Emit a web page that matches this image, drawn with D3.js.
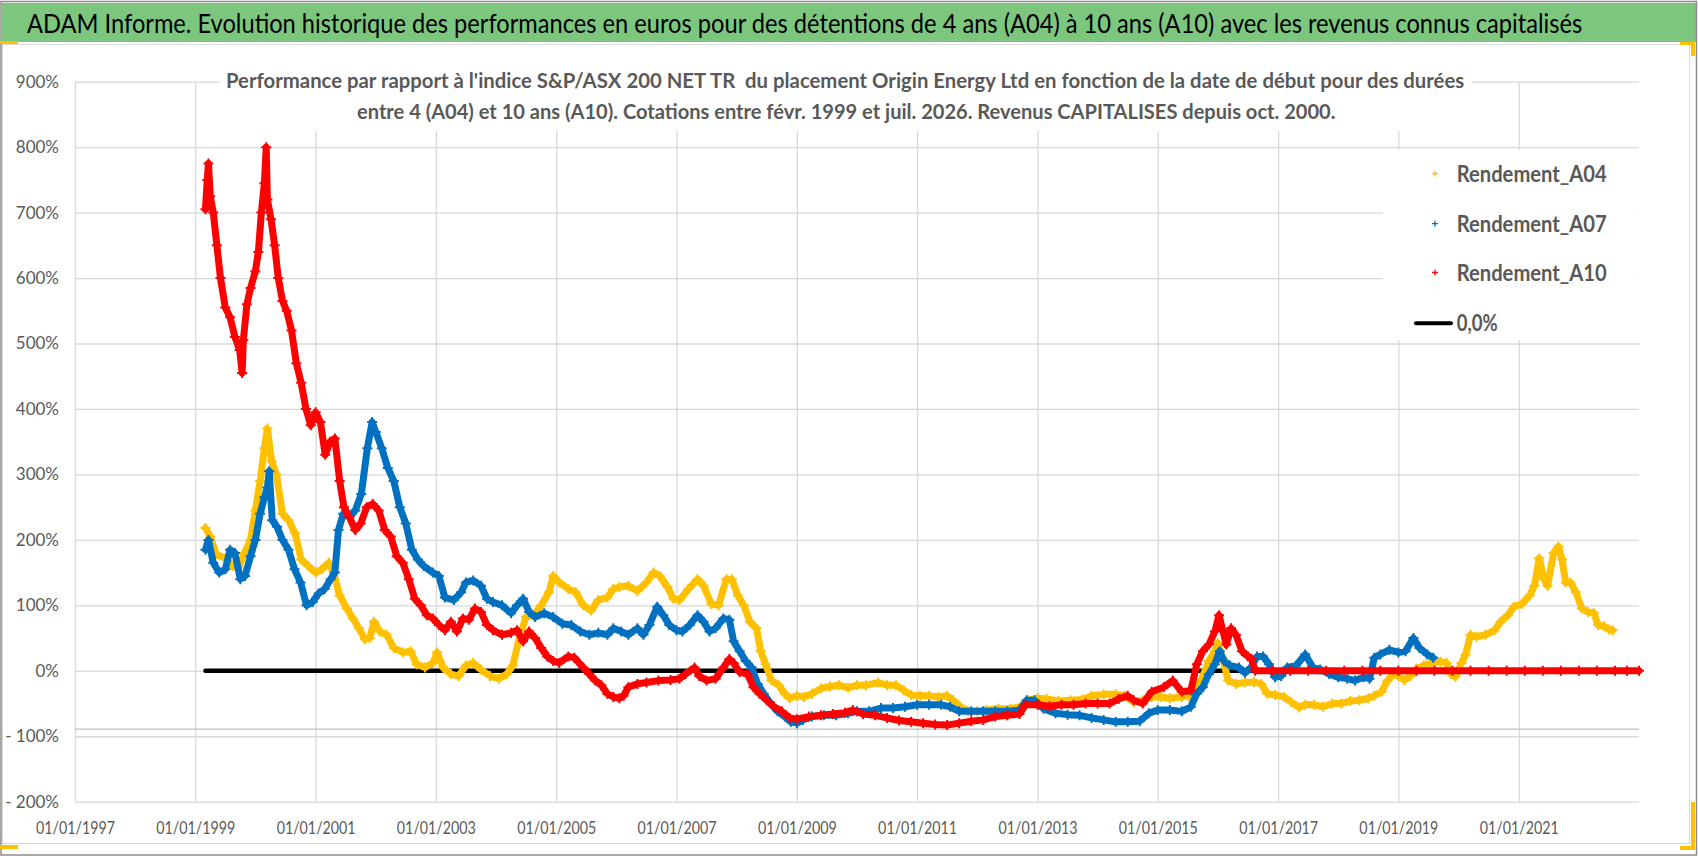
<!DOCTYPE html>
<html>
<head>
<meta charset="utf-8">
<script src="https://cdn.jsdelivr.net/npm/d3@7"></script>
<style>
  body { margin: 0; background: #fff; }
  svg { display: block; font-family: Lato, "Open Sans", sans-serif; }
</style>
</head>
<body>
<svg id="chart" width="1698" height="856"></svg>
<script>
// texts
const mainTitle = "ADAM Informe. Evolution historique des performances en euros pour des détentions de 4 ans (A04) à 10 ans (A10) avec les revenus connus capitalisés";
const subTitle1 = "Performance par rapport à l'indice S&P/ASX 200 NET TR  du placement Origin Energy Ltd en fonction de la date de début pour des durées";
const subTitle2 = "entre 4 (A04) et 10 ans (A10). Cotations entre févr. 1999 et juil. 2026. Revenus CAPITALISES depuis oct. 2000.";
const seriesNames = ["Rendement_A04", "Rendement_A07", "Rendement_A10"];
const zeroName = "0,0%";

// axes
const yTicks = [900, 800, 700, 600, 500, 400, 300, 200, 100, 0, -100, -200];
const xTickLabels = ["01/01/1997", "01/01/1999", "01/01/2001", "01/01/2003", "01/01/2005", "01/01/2007",
  "01/01/2009", "01/01/2011", "01/01/2013", "01/01/2015", "01/01/2017", "01/01/2019", "01/01/2021"];

// data: start date (decimal year) and performance in %
const a04Years = [1999.17, 1999.25, 1999.35, 1999.5, 1999.62, 1999.72, 1999.82, 1999.92, 2000.0, 2000.08,
  2000.15, 2000.2, 2000.27, 2000.35, 2000.45, 2000.55, 2000.66, 2000.76, 2000.88, 2001.0,
  2001.1, 2001.22, 2001.3, 2001.4, 2001.52, 2001.62, 2001.72, 2001.82, 2001.9, 2001.97,
  2002.07, 2002.18, 2002.3, 2002.45, 2002.58, 2002.68, 2002.82, 2002.95, 2003.02, 2003.12,
  2003.25, 2003.38, 2003.5, 2003.62, 2003.75, 2003.9, 2004.05, 2004.18, 2004.28, 2004.4,
  2004.5, 2004.62, 2004.75, 2004.88, 2004.95, 2005.05, 2005.2, 2005.32, 2005.45, 2005.58,
  2005.7, 2005.85, 2005.95, 2006.05, 2006.2, 2006.35, 2006.5, 2006.62, 2006.72, 2006.85,
  2006.95, 2007.05, 2007.2, 2007.35, 2007.45, 2007.58, 2007.7, 2007.83, 2007.92, 2008.02,
  2008.12, 2008.22, 2008.33, 2008.4, 2008.48, 2008.58, 2008.7, 2008.8, 2008.88, 2009.0,
  2009.12, 2009.25, 2009.4, 2009.55, 2009.7, 2009.85, 2010.0, 2010.15, 2010.35, 2010.5,
  2010.65, 2010.78, 2010.9, 2011.05, 2011.2, 2011.35, 2011.5, 2011.6, 2011.72, 2011.85,
  2012.0, 2012.15, 2012.35, 2012.55, 2012.72, 2012.85, 2013.0, 2013.15, 2013.35, 2013.55,
  2013.75, 2013.9, 2014.1, 2014.3, 2014.45, 2014.6, 2014.75, 2014.9, 2015.05, 2015.2,
  2015.4, 2015.52, 2015.62, 2015.72, 2015.85, 2015.95, 2016.0, 2016.08, 2016.17, 2016.3,
  2016.45, 2016.6, 2016.72, 2016.82, 2016.95, 2017.1, 2017.22, 2017.35, 2017.45, 2017.6,
  2017.75, 2017.9, 2018.05, 2018.2, 2018.35, 2018.5, 2018.6, 2018.72, 2018.82, 2018.92,
  2019.0, 2019.1, 2019.2, 2019.3, 2019.42, 2019.55, 2019.7, 2019.8, 2019.88, 2019.95,
  2020.05, 2020.12, 2020.2, 2020.3, 2020.45, 2020.6, 2020.7, 2020.82, 2020.92, 2021.05,
  2021.18, 2021.26, 2021.34, 2021.42, 2021.48, 2021.58, 2021.66, 2021.72, 2021.78, 2021.86,
  2021.95, 2022.05, 2022.15, 2022.25, 2022.32, 2022.42, 2022.5, 2022.56];
const a04Values = [218, 205, 178, 172, 160, 158, 180, 200, 245, 290,
  340, 370, 320, 300, 240, 230, 210, 170, 160, 150,
  155, 165, 150, 115, 95, 80, 65, 48, 50, 75,
  60, 55, 35, 28, 30, 10, 5, 12, 28, 5,
  -5, -8, 8, 12, 2, -8, -12, -5, 8, 55,
  82, 85, 100, 120, 145, 135, 125, 120, 100, 92,
  108, 112, 125, 128, 130, 122, 135, 150, 145, 128,
  110, 108, 125, 140, 130, 102, 100, 140, 140, 115,
  100, 75, 65, 30, 10, -15, -22, -35, -42, -38,
  -40, -35, -27, -24, -22, -26, -22, -22, -18, -22,
  -22, -30, -37, -38, -38, -40, -38, -45, -55, -62,
  -62, -60, -58, -58, -55, -45, -42, -43, -46, -45,
  -44, -38, -36, -36, -38, -48, -45, -40, -40, -42,
  -40, -38, -22, -15, 15, 30, 42, 20, -15, -20,
  -18, -17, -20, -35, -37, -40, -48, -56, -52, -52,
  -55, -50, -50, -46, -45, -42, -38, -32, -15, -5,
  -8, -14, -8, 3, 8, 12, 14, 12, -5, -9,
  12, 25, 55, 52, 55, 62, 75, 85, 98, 102,
  115, 130, 172, 140, 130, 180, 190, 170, 135, 135,
  120, 95, 90, 88, 70, 68, 63, 62];

const a07Years = [1999.17, 1999.22, 1999.3, 1999.4, 1999.5, 1999.58, 1999.66, 1999.75, 1999.83, 1999.92,
  2000.0, 2000.08, 2000.15, 2000.2, 2000.23, 2000.28, 2000.36, 2000.45, 2000.55, 2000.65, 2000.75,
  2000.85, 2000.95, 2001.05, 2001.15, 2001.25, 2001.32, 2001.38, 2001.46, 2001.56, 2001.66,
  2001.76, 2001.86, 2001.94, 2002.0, 2002.1, 2002.2, 2002.3, 2002.4, 2002.5, 2002.6,
  2002.7, 2002.8, 2002.95, 2003.05, 2003.15, 2003.3, 2003.42, 2003.5, 2003.62, 2003.75,
  2003.85, 2003.95, 2004.1, 2004.25, 2004.35, 2004.45, 2004.55, 2004.65, 2004.8, 2004.95,
  2005.1, 2005.25, 2005.4, 2005.55, 2005.7, 2005.85, 2005.95, 2006.08, 2006.2, 2006.35,
  2006.45, 2006.55, 2006.68, 2006.78, 2006.88, 2007.0, 2007.1, 2007.22, 2007.35, 2007.45,
  2007.55, 2007.65, 2007.78, 2007.88, 2007.95, 2008.05, 2008.15, 2008.25, 2008.35, 2008.45,
  2008.55, 2008.68, 2008.8, 2008.9, 2009.0, 2009.1, 2009.25, 2009.45, 2009.65, 2009.85,
  2010.0, 2010.2, 2010.4, 2010.6, 2010.8, 2011.0, 2011.2, 2011.4, 2011.55, 2011.7,
  2011.9, 2012.1, 2012.3, 2012.5, 2012.7, 2012.82, 2012.95, 2013.1, 2013.3, 2013.5,
  2013.7, 2013.9, 2014.1, 2014.3, 2014.5, 2014.7, 2014.85, 2015.0, 2015.2, 2015.4,
  2015.55, 2015.65, 2015.75, 2015.85, 2015.95, 2016.03, 2016.1, 2016.2, 2016.35, 2016.45,
  2016.55, 2016.65, 2016.75, 2016.85, 2016.95, 2017.05, 2017.15, 2017.3, 2017.45, 2017.58,
  2017.7, 2017.85, 2018.0, 2018.15, 2018.28, 2018.42, 2018.52, 2018.6, 2018.7, 2018.85,
  2019.0, 2019.12, 2019.25, 2019.35, 2019.48, 2019.58];
const a07Values = [185, 200, 165, 150, 155, 185, 180, 140, 145, 175,
  200, 240, 265, 280, 305, 230, 220, 200, 185, 155, 135,
  100, 105, 118, 125, 140, 150, 215, 240, 235, 245,
  270, 340, 380, 365, 340, 310, 290, 250, 225, 185,
  170, 160, 150, 145, 112, 108, 120, 135, 138, 130,
  110, 105, 100, 88, 100, 110, 90, 82, 88, 82,
  72, 70, 60, 55, 58, 55, 65, 60, 55, 65,
  55, 70, 98, 85, 70, 62, 60, 70, 85, 75,
  60, 65, 80, 78, 45, 30, 15, 5, -20, -35,
  -48, -62, -70, -78, -80, -75, -70, -68, -68, -65,
  -62, -62, -57, -57, -55, -52, -52, -52, -55, -62,
  -62, -62, -62, -62, -60, -45, -45, -58, -65, -67,
  -68, -72, -75, -78, -78, -77, -65, -60, -60, -62,
  -55, -35, -25, -5, 10, 30, 15, 8, 5, -3,
  5, 22, 22, 10, -10, -8, 5, 8, 25, 5,
  2, -5, -10, -12, -15, -10, -12, 20, 25, 32,
  28, 30, 50, 35, 25, 20];

const a10Years = [1999.17, 1999.2, 1999.22, 1999.25, 1999.3, 1999.36, 1999.42, 1999.5, 1999.58, 1999.66, 1999.74,
  1999.78, 1999.8, 1999.86, 1999.92, 2000.0, 2000.05, 2000.1, 2000.15, 2000.18, 2000.2, 2000.26, 2000.32,
  2000.38, 2000.45, 2000.52, 2000.6, 2000.68, 2000.76, 2000.84, 2000.92, 2001.0, 2001.08,
  2001.16, 2001.24, 2001.32, 2001.4, 2001.47, 2001.56, 2001.66, 2001.75, 2001.85, 2001.95,
  2002.05, 2002.15, 2002.25, 2002.35, 2002.45, 2002.55, 2002.65, 2002.75, 2002.85, 2002.95,
  2003.05, 2003.15, 2003.25, 2003.35, 2003.45, 2003.55, 2003.65, 2003.75, 2003.85, 2003.95,
  2004.1, 2004.25, 2004.35, 2004.45, 2004.55, 2004.65, 2004.75, 2004.85, 2004.95, 2005.05,
  2005.2, 2005.3, 2005.45, 2005.55, 2005.65, 2005.75, 2005.85, 2005.95, 2006.05, 2006.12,
  2006.2, 2006.35, 2006.5, 2006.7, 2006.9, 2007.05, 2007.15, 2007.3, 2007.38, 2007.5,
  2007.65, 2007.78, 2007.88, 2007.95, 2008.05, 2008.18, 2008.28, 2008.38, 2008.5, 2008.62,
  2008.75, 2008.88, 2009.0, 2009.2, 2009.4, 2009.6, 2009.8, 2009.93, 2010.1, 2010.3,
  2010.5, 2010.7, 2010.9, 2011.1, 2011.3, 2011.5, 2011.7, 2011.9, 2012.1, 2012.3,
  2012.5, 2012.7, 2012.8, 2013.0, 2013.2, 2013.4, 2013.6, 2013.8, 2014.0, 2014.2,
  2014.35, 2014.5, 2014.6, 2014.75, 2014.9, 2015.1, 2015.25, 2015.4, 2015.55, 2015.65,
  2015.75, 2015.85, 2015.95, 2016.02, 2016.08, 2016.14, 2016.22, 2016.3, 2016.4, 2016.5,
  2016.56, 2016.62, 2016.9, 2017.2, 2017.5, 2017.8, 2018.1, 2018.4, 2018.7, 2019.0,
  2019.3, 2019.6, 2019.9, 2020.2, 2020.5, 2020.8, 2021.1, 2021.4, 2021.7, 2022.0,
  2022.3, 2022.6, 2022.8, 2023.0];
const a10Values = [705, 750, 775, 725, 700, 650, 600, 555, 540, 510, 490,
  455, 505, 560, 585, 610, 640, 700, 745, 800, 720, 690, 650,
  600, 565, 550, 520, 470, 440, 400, 375, 395, 380,
  330, 350, 355, 290, 250, 235, 215, 225, 250, 255,
  245, 215, 205, 175, 165, 140, 110, 100, 85, 80,
  70, 62, 75, 60, 80, 78, 95, 90, 70, 62,
  55, 58, 62, 45, 60, 50, 35, 22, 15, 12,
  22, 20, 5, -5, -15, -22, -35, -40, -42, -38,
  -25, -20, -18, -15, -14, -12, -5, 5, -8, -15,
  -12, 5, 18, 12, -2, -5, -25, -35, -45, -55,
  -62, -72, -74, -70, -68, -66, -64, -60, -66, -68,
  -72, -76, -78, -80, -82, -83, -80, -77, -75, -70,
  -68, -66, -52, -52, -54, -52, -52, -50, -50, -50,
  -43, -38, -45, -50, -32, -25, -15, -32, -30, 10,
  30, 40, 60, 85, 62, 40, 65, 55, 30, 22,
  18, 0, 0, 0, 0, 0, 0, 0, 0, 0,
  0, 0, 0, 0, 0, 0, 0, 0, 0, 0,
  0, 0, 0, 0];

const zeroYears = [1999.17, 2023.0];
const zeroValues = [0, 0];

const colors = ["#FFC000", "#0070C0", "#FF0000"];

// ---------- layout ----------
const W = 1698, H = 856;
const plot = { left: 75, right: 1639, top: 81.7, bottom: 801.7 };
const textGrey = "#595959";

function toDate(y) {
  const yr = Math.floor(y);
  const a = new Date(yr, 0, 1), b = new Date(yr + 1, 0, 1);
  return new Date(+a + (y - yr) * (b - a));
}
const parseLabel = d3.timeParse("%d/%m/%Y");
const xTickDates = xTickLabels.map(parseLabel);

const x = d3.scaleTime()
  .domain([new Date(1997, 0, 1), new Date(2023, 0, 1)])
  .range([plot.left, plot.right]);
const y = d3.scaleLinear()
  .domain([-200, 900])
  .range([plot.bottom, plot.top]);

const svg = d3.select("#chart");

// squeeze a text horizontally so that it fills the given width
function fitWidth(sel, x0, y0, width, anchor) {
  const natural = sel.node().getComputedTextLength();
  const k = width / natural;
  const left = anchor === "middle" ? x0 - width / 2 : x0;
  sel.attr("x", 0).attr("y", 0).attr("text-anchor", "start")
    .attr("transform", `translate(${left},${y0}) scale(${k},1)`);
}

// frame and title bar
svg.append("rect").attr("x", 0).attr("y", 0).attr("width", W).attr("height", H).attr("fill", "#fff");
svg.append("rect").attr("x", 2.5).attr("y", 44.5).attr("width", 1687).attr("height", 799)
  .attr("fill", "#fff").attr("stroke", "#d9d9d9");
svg.append("rect").attr("x", 2).attr("y", 3).attr("width", 1694).attr("height", 39).attr("fill", "#7dc67e");
svg.append("rect").attr("x", 1).attr("y", 1.5).attr("width", 1695.5).attr("height", 853.5)
  .attr("fill", "none").attr("stroke", "#8c8c8c").attr("stroke-width", 1.5);

// little yellow handles
const handles = [[0, 41, 18, 3], [0, 845, 18, 4], [1680, 42, 15, 3], [1691, 42, 4, 14],
  [1691, 802, 4, 48], [1680, 846, 15, 4]];
svg.selectAll("rect.handle").data(handles).enter().append("rect")
  .attr("class", "handle")
  .attr("x", d => d[0]).attr("y", d => d[1]).attr("width", d => d[2]).attr("height", d => d[3])
  .attr("fill", "#FFC000");

const titleText = svg.append("text")
  .attr("font-size", 26).attr("fill", "#000")
  .text(mainTitle);
fitWidth(titleText, 27, 33, 1556, "start");

// gridlines
const gridColor = "#d9d9d9";
const yGrid = svg.append("g")
  .attr("transform", `translate(${plot.left},0)`)
  .call(d3.axisLeft(y).tickValues(yTicks).tickSize(-(plot.right - plot.left)).tickFormat(""));
yGrid.select(".domain").remove();
yGrid.selectAll("line").attr("stroke", gridColor).attr("stroke-width", 1.3);

const xGrid = svg.append("g")
  .attr("transform", `translate(0,${plot.bottom})`)
  .call(d3.axisBottom(x).tickValues(xTickDates).tickSize(-(plot.bottom - plot.top)).tickFormat(""));
xGrid.select(".domain").remove();
xGrid.selectAll("line").attr("stroke", gridColor).attr("stroke-width", 1.3);

// horizontal axis line
svg.append("line")
  .attr("x1", plot.left).attr("x2", plot.right)
  .attr("y1", y(-89)).attr("y2", y(-89))
  .attr("stroke", "#bfbfbf").attr("stroke-width", 1.3);

// axis labels
const yAxis = svg.append("g")
  .attr("transform", `translate(${plot.left},0)`)
  .call(d3.axisLeft(y).tickValues(yTicks).tickSize(0).tickPadding(16)
    .tickFormat(v => v < 0 ? "- " + (-v) + "%" : v + "%"));
yAxis.select(".domain").remove();
yAxis.selectAll("text").attr("font-size", 17).attr("fill", textGrey)
  .attr("font-family", "Lato, 'Open Sans', sans-serif");

const xAxis = svg.append("g")
  .attr("transform", `translate(0,${plot.bottom})`)
  .call(d3.axisBottom(x).tickValues(xTickDates).tickSize(0).tickPadding(20)
    .tickFormat((d, i) => xTickLabels[i]));
xAxis.select(".domain").remove();
xAxis.selectAll("text").attr("font-size", 18).attr("fill", textGrey)
  .attr("font-family", "Lato, 'Open Sans', sans-serif")
  .attr("textLength", 79).attr("lengthAdjust", "spacingAndGlyphs");

// chart title box
svg.append("rect").attr("x", 220).attr("y", 60).attr("width", 1252).attr("height", 71).attr("fill", "#fff");
const sub1 = svg.append("text")
  .attr("font-size", 21).attr("font-weight", "bold").attr("fill", textGrey)
  .style("white-space", "pre")
  .text(subTitle1);
fitWidth(sub1, 845.5, 88, 1239, "middle");
const sub2 = svg.append("text")
  .attr("font-size", 21).attr("font-weight", "bold").attr("fill", textGrey)
  .text(subTitle2);
fitWidth(sub2, 846.5, 119, 979, "middle");

// legend
const legend = svg.append("g");
legend.append("rect").attr("x", 1383).attr("y", 150).attr("width", 255).attr("height", 190).attr("fill", "#fff");
const legRows = [181.7, 231.7, 280.5];
seriesNames.forEach((name, i) => {
  legend.append("path")
    .attr("d", `M${1435 - 3},${legRows[i] - 8}h6M${1435},${legRows[i] - 11}v6`)
    .attr("stroke", colors[i]).attr("stroke-width", 1.3);
  legend.append("text")
    .attr("x", 1456.7).attr("y", legRows[i])
    .attr("font-size", 22).attr("font-weight", "bold").attr("fill", textGrey)
    .attr("textLength", 150).attr("lengthAdjust", "spacingAndGlyphs")
    .text(name);
});
legend.append("line")
  .attr("x1", 1416).attr("x2", 1451).attr("y1", 323.3).attr("y2", 323.3)
  .attr("stroke", "#000").attr("stroke-width", 4).attr("stroke-linecap", "round");
legend.append("text")
  .attr("x", 1456.7).attr("y", 330.5)
  .attr("font-size", 22).attr("font-weight", "bold").attr("fill", textGrey)
  .attr("textLength", 41).attr("lengthAdjust", "spacingAndGlyphs")
  .text(zeroName);

// 0% line
const zeroData = zeroYears.map((yr, i) => ({ date: toDate(yr), value: zeroValues[i] }));
const line = d3.line().x(d => x(d.date)).y(d => y(d.value));
svg.append("path")
  .datum(zeroData)
  .attr("d", line)
  .attr("fill", "none").attr("stroke", "#000").attr("stroke-width", 4.5).attr("stroke-linecap", "round");

// series
const allSeries = [
  { years: a04Years, values: a04Values },
  { years: a07Years, values: a07Values },
  { years: a10Years, values: a10Values },
];
const plus = "M-5,0H5M0,-5V5";

allSeries.forEach((s, i) => {
  const data = s.years.map((yr, j) => ({ date: toDate(yr), value: s.values[j] }));
  const g = svg.append("g");
  g.append("path")
    .datum(data)
    .attr("d", line)
    .attr("fill", "none").attr("stroke", colors[i]).attr("stroke-width", 7)
    .attr("stroke-linejoin", "round").attr("stroke-linecap", "round");
  g.selectAll("path.pt")
    .data(data)
    .enter()
    .append("path")
    .attr("class", "pt")
    .attr("d", plus)
    .attr("transform", d => `translate(${x(d.date)},${y(d.value)})`)
    .attr("stroke", colors[i]).attr("stroke-width", 2);
});
</script>
</body>
</html>
